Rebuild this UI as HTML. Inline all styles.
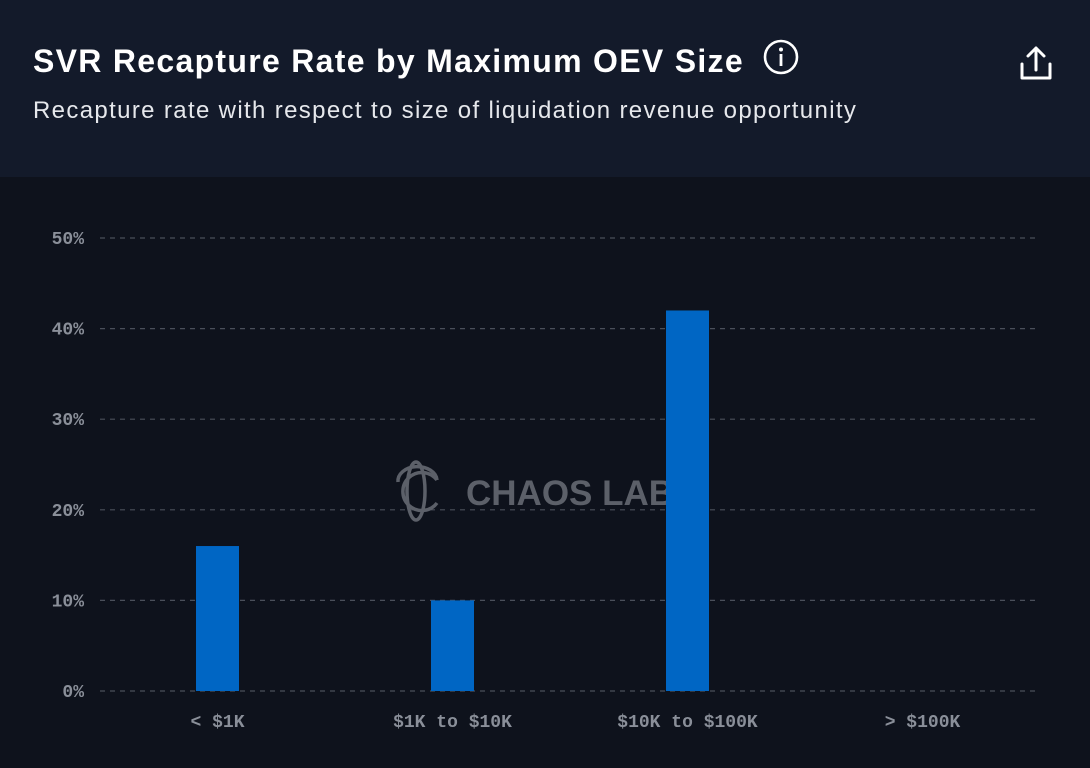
<!DOCTYPE html>
<html><head><meta charset="utf-8"><style>
body{margin:0;width:1090px;height:768px;background:#0e121c;overflow:hidden;font-family:"Liberation Sans",sans-serif}
.hdr{position:absolute;left:0;top:0;width:1090px;height:177px;background:#131a2a}
.title{position:absolute;left:33px;top:43px;font-size:32px;color:#fff;font-weight:bold;letter-spacing:1.3px}
.sub{position:absolute;left:33px;top:97px;font-size:24px;color:#e6e8ec;letter-spacing:1.35px}
</style></head><body>
<div class="hdr">
<div class="title">SVR Recapture Rate by Maximum OEV Size</div>
<svg style="position:absolute;left:762px;top:38px" width="38" height="38" viewBox="0 0 38 38"><circle cx="19" cy="19" r="16" fill="none" stroke="#fff" stroke-width="2.6"/><circle cx="19" cy="11.5" r="2" fill="#fff"/><rect x="17.6" y="16" width="2.8" height="12" fill="#fff"/></svg>
<svg style="position:absolute;left:1016px;top:44px" width="40" height="40" viewBox="0 0 40 40"><path d="M20 4 V26 M12 12 L20 4 L28 12 M6 20 V34 H34 V20" fill="none" stroke="#fff" stroke-width="3" stroke-linecap="round" stroke-linejoin="round"/></svg>
<div class="sub">Recapture rate with respect to size of liquidation revenue opportunity</div>
</div>
<svg id="chart" style="position:absolute;left:0;top:0" width="1090" height="768"></svg>
<script>
const categories=["< $1K","$1K to $10K","$10K to $100K","> $100K"];
const values=[16,10,42,0];
const yTicks=[0,10,20,30,40,50];
const yTickLabels=["0%","10%","20%","30%","40%","50%"];
const svg=document.getElementById('chart');
const NS='http://www.w3.org/2000/svg';
const L=100,R=1040,Y0=691,Y1=238,YMAX=50;
const y=v=>Y0-(v/YMAX)*(Y0-Y1);
const band=(R-L)/categories.length;
const x=i=>L+band*(i+0.5);
function mk(t,a){const e=document.createElementNS(NS,t);for(const k in a)e.setAttribute(k,a[k]);svg.appendChild(e);return e;}
yTicks.forEach((t,i)=>{
 const g=mk('line',{x1:L,x2:R,y1:y(t),y2:y(t),stroke:'#4a4f5a','stroke-dasharray':'5,5','stroke-width':1.2});
 
 
 const tx=mk('text',{x:84,y:y(t)+6,'text-anchor':'end',fill:'#8a8f99','font-size':18,'font-weight':'bold','font-family':'Liberation Mono, monospace'});
 tx.textContent=yTickLabels[i];
 
 
});
const wm=document.createElementNS(NS,'g');


wm.innerHTML='<g fill="none" stroke="#5c6069" stroke-width="3.5"><ellipse cx="416" cy="491" rx="9" ry="29"/><path d="M437 480 A19 19 0 1 0 437 503"/><path d="M398 482 A19 14 0 0 1 437 480"/></g><text x="466" y="505" fill="#5c6069" font-size="35" font-family="Liberation Sans, sans-serif" font-weight="bold">CHAOS LABS</text>';
svg.appendChild(wm);
categories.forEach((c,i)=>{
 const bw=43;
 if(values[i]>0){
 const b=mk('rect',{x:x(i)-bw/2,y:y(values[i]),width:bw,height:Y0-y(values[i]),fill:'#0066c4'});
 
 
 }
 const t=mk('text',{x:x(i),y:727,'text-anchor':'middle',fill:'#8a8f99','font-size':18,'font-weight':'bold','font-family':'Liberation Mono, monospace'});
 t.textContent=c;
 
 
});
</script>
</body></html>
